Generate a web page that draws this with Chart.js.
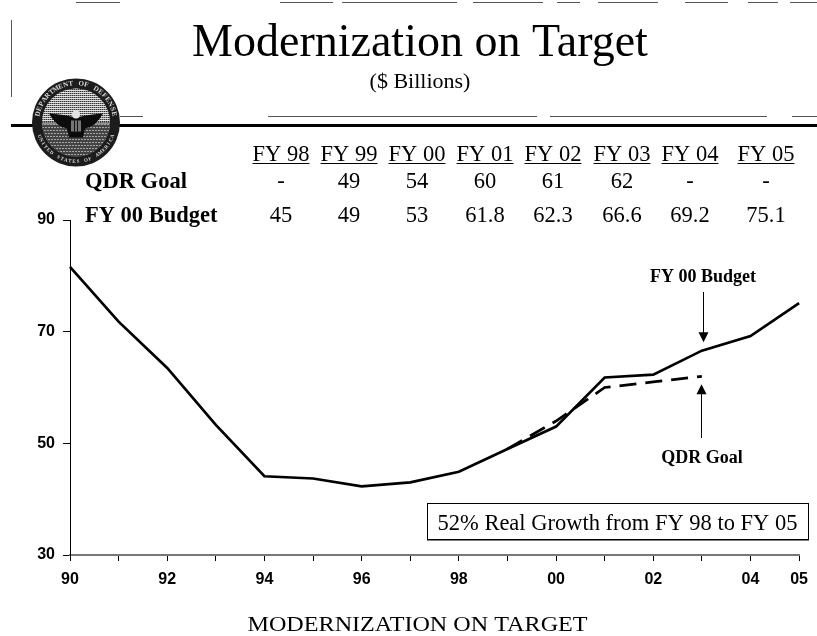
<!DOCTYPE html>
<html>
<head>
<meta charset="utf-8">
<title>Modernization on Target</title>
<script src="https://cdn.jsdelivr.net/npm/chart.js@4"></script>
<style>
  html, body { margin: 0; padding: 0; background: #fff; }
  canvas { display: block; }
</style>
</head>
<body>
<canvas id="modernizationChart" width="817" height="636"></canvas>
<script>
const years = ["90", "91", "92", "93", "94", "95", "96", "97", "98", "99", "00", "01", "02", "03", "04", "05"];
const shownYears = ["90", "92", "94", "96", "98", "00", "02", "04", "05"];
const budgetValues = [81.6, 71.8, 63.5, 53.3, 44.1, 43.7, 42.3, 43, 44.9, 49, 53, 61.8, 62.3, 66.6, 69.2, 75.1];
const goalValues = [null, null, null, null, null, null, null, null, null, 49, 54, 60, 61, 62, null, null];
const yTicks = [30, 50, 70, 90];

const tableYears = ["FY 98", "FY 99", "FY 00", "FY 01", "FY 02", "FY 03", "FY 04", "FY 05"];
const tableGoal = ["-", "49", "54", "60", "61", "62", "-", "-"];
const tableBudget = ["45", "49", "53", "61.8", "62.3", "66.6", "69.2", "75.1"];
const tableCenters = [281, 349, 417, 485, 553, 622, 690, 766];

const SERIF = '"Liberation Serif", serif';

function arrow(ctx, x, y1, y2) {
  const dir = y2 > y1 ? 1 : -1;
  ctx.strokeStyle = "#000";
  ctx.fillStyle = "#000";
  ctx.lineWidth = 1;
  ctx.beginPath();
  ctx.moveTo(x + 0.5, y1);
  ctx.lineTo(x + 0.5, y2 - dir * 8);
  ctx.stroke();
  ctx.beginPath();
  ctx.moveTo(x + 0.5, y2);
  ctx.lineTo(x - 4.5, y2 - dir * 10);
  ctx.lineTo(x + 5.5, y2 - dir * 10);
  ctx.closePath();
  ctx.fill();
}

function drawSeal(ctx) {
  const cx = 76, cy = 122.5, r = 44;
  ctx.save();
  ctx.fillStyle = "#1c1c1c";
  ctx.beginPath();
  ctx.arc(cx, cy, r, 0, Math.PI * 2);
  ctx.fill();

  // inner field, halftone look
  ctx.beginPath();
  ctx.arc(cx, cy, r - 10, 0, Math.PI * 2);
  ctx.clip();
  ctx.fillStyle = "#8e8e8e";
  ctx.fillRect(cx - r, cy - r, r * 2, r * 2);
  ctx.fillStyle = "#333";
  for (let x = 32; x < 120; x += 2) {
    ctx.fillRect(x, cy - r, 1, r);
  }
  ctx.fillStyle = "#e0e0e0";
  for (let y = 78; y < 122; y += 2) {
    ctx.fillRect(cx - r, y, r * 2, 1);
  }
  // lower wreath
  ctx.fillStyle = "#444";
  ctx.fillRect(cx - r, cy + 2, r * 2, r);
  ctx.fillStyle = "#a5a5a5";
  for (let x = 32; x < 120; x += 3) {
    for (let y = 124; y < 168; y += 3) {
      ctx.fillRect(x + (y % 2), y, 2, 1);
    }
  }
  // eagle
  ctx.fillStyle = "#0c0c0c";
  ctx.beginPath();
  ctx.moveTo(cx - 27, cy - 9);
  ctx.quadraticCurveTo(cx - 14, cy - 8, cx - 5, cy - 6);
  ctx.lineTo(cx + 5, cy - 6);
  ctx.quadraticCurveTo(cx + 14, cy - 8, cx + 27, cy - 9);
  ctx.quadraticCurveTo(cx + 20, cy + 4, cx + 9, cy + 6);
  ctx.lineTo(cx + 7, cy + 15);
  ctx.lineTo(cx - 7, cy + 15);
  ctx.lineTo(cx - 9, cy + 6);
  ctx.quadraticCurveTo(cx - 20, cy + 4, cx - 27, cy - 9);
  ctx.fill();
  ctx.fillStyle = "#e4e4e4";
  ctx.beginPath();
  ctx.arc(cx, cy - 8, 4, 0, Math.PI * 2);
  ctx.fill();
  ctx.fillStyle = "#777";
  ctx.fillRect(cx - 5, cy - 2, 10, 11);
  ctx.fillStyle = "#111";
  ctx.fillRect(cx - 2, cy - 2, 1, 11);
  ctx.fillRect(cx + 1, cy - 2, 1, 11);
  ctx.restore();

  // lettering on the ring
  ctx.save();
  ctx.fillStyle = "#ddd";
  ctx.font = 'bold 7px "Liberation Serif", serif';
  ctx.textAlign = "center";
  ctx.textBaseline = "middle";
  const top = "DEPARTMENT OF DEFENSE";
  for (let i = 0; i < top.length; i++) {
    const a = -Math.PI / 2 + (i - (top.length - 1) / 2) * 0.135;
    ctx.save();
    ctx.translate(cx + Math.cos(a) * (r - 5), cy + Math.sin(a) * (r - 5));
    ctx.rotate(a + Math.PI / 2);
    ctx.fillText(top[i], 0, 0);
    ctx.restore();
  }
  ctx.font = 'bold 5px "Liberation Serif", serif';
  const bottom = "UNITED STATES OF AMERICA";
  for (let i = 0; i < bottom.length; i++) {
    const a = Math.PI / 2 - (i - (bottom.length - 1) / 2) * 0.105;
    ctx.save();
    ctx.translate(cx + Math.cos(a) * (r - 5), cy + Math.sin(a) * (r - 5));
    ctx.rotate(a - Math.PI / 2);
    ctx.fillText(bottom[i], 0, 0);
    ctx.restore();
  }
  ctx.restore();
}

const slideText = {
  id: "slideText",
  afterDraw(chart) {
    const ctx = chart.ctx;
    const xScale = chart.scales.x;
    const yScale = chart.scales.y;
    ctx.save();
    ctx.fillStyle = "#000";
    ctx.textBaseline = "alphabetic";

    // scan leftovers round the frame
    ctx.strokeStyle = "#555";
    ctx.lineWidth = 1;
    [[76, 120], [280, 333], [342, 457], [473, 543], [557, 580], [598, 658], [685, 728], [748, 778], [790, 817]].forEach((s) => {
      ctx.beginPath();
      ctx.moveTo(s[0], 2.5);
      ctx.lineTo(s[1], 2.5);
      ctx.stroke();
    });
    [[120, 143], [268, 537], [550, 767], [792, 817]].forEach((s) => {
      ctx.beginPath();
      ctx.moveTo(s[0], 116.5);
      ctx.lineTo(s[1], 116.5);
      ctx.stroke();
    });
    ctx.beginPath();
    ctx.moveTo(11.5, 20);
    ctx.lineTo(11.5, 97);
    ctx.stroke();

    // heavy rule under the title
    ctx.fillStyle = "#000";
    ctx.fillRect(11, 124, 806, 3);
    drawSeal(ctx);

    ctx.fillStyle = "#000";
    ctx.textAlign = "center";
    ctx.font = "46px " + SERIF;
    ctx.fillText("Modernization on Target", 420, 56);
    ctx.font = "22px " + SERIF;
    ctx.fillText("($ Billions)", 420, 88);

    // table above the plot
    ctx.font = "22.5px " + SERIF;
    tableYears.forEach((label, i) => {
      const cx = tableCenters[i];
      ctx.fillText(label, cx, 161);
      const w = ctx.measureText(label).width;
      ctx.fillRect(cx - w / 2, 163, w, 1);
      ctx.fillText(tableGoal[i], cx, 188);
      ctx.fillText(tableBudget[i], cx, 221.5);
    });
    ctx.textAlign = "left";
    ctx.font = "bold 22.5px " + SERIF;
    ctx.fillText("QDR Goal", 85, 188);
    ctx.fillText("FY 00 Budget", 85, 221.5);

    // callouts tied to FY 03 on the axis
    const x03 = Math.round(xScale.getPixelForValue(years.indexOf("03")));
    ctx.textAlign = "center";
    ctx.font = "bold 18px " + SERIF;
    ctx.fillText("FY 00 Budget", x03 + 1, 282);
    arrow(ctx, x03 + 1, 292, yScale.getPixelForValue(68.1));
    ctx.fillText("QDR Goal", x03, 463);
    arrow(ctx, x03 - 1, 438, yScale.getPixelForValue(60.6));

    // growth note
    ctx.strokeStyle = "#000";
    ctx.lineWidth = 1;
    ctx.strokeRect(427.5, 503.5, 381, 36);
    ctx.fillStyle = "#000";
    ctx.fillRect(427, 539, 382, 1.5);
    ctx.font = "22.5px " + SERIF;
    ctx.fillText("52% Real Growth from FY 98 to FY 05", 617.5, 530);

    // caption is stretched sideways in the scan
    ctx.save();
    ctx.translate(417.5, 630.5);
    ctx.scale(1.15, 1);
    ctx.font = "21px " + SERIF;
    ctx.fillText("MODERNIZATION ON TARGET", 0, 0);
    ctx.restore();
    ctx.restore();
  },
};

new Chart(document.getElementById("modernizationChart"), {
  type: "line",
  data: {
    labels: years,
    datasets: [
      {
        label: "FY 00 Budget",
        data: budgetValues,
        borderColor: "#000",
        borderWidth: 2.7,
        pointRadius: 0,
        tension: 0,
      },
      {
        label: "QDR Goal",
        data: goalValues,
        borderColor: "#000",
        borderWidth: 2.7,
        borderDash: [17, 9],
        pointRadius: 0,
        tension: 0,
      },
    ],
  },
  options: {
    responsive: false,
    animation: false,
    layout: {
      padding: { left: 25, right: 17, top: 220, bottom: 41 },
    },
    plugins: {
      legend: { display: false },
      tooltip: { enabled: false },
    },
    scales: {
      x: {
        offset: false,
        afterFit(scale) {
          scale.height = 40;
        },
        border: { color: "#777", width: 2 },
        grid: { drawOnChartArea: false, color: "#000", tickLength: 6 },
        ticks: {
          autoSkip: false,
          maxRotation: 0,
          color: "#000",
          padding: 9,
          font: { family: "Liberation Sans", size: 16, weight: "bold" },
          callback(value) {
            const label = this.getLabelForValue(value);
            return shownYears.includes(label) ? label : "";
          },
        },
      },
      y: {
        min: yTicks[0],
        max: yTicks[yTicks.length - 1],
        afterFit(scale) {
          scale.width = 45;
        },
        afterBuildTicks(scale) {
          scale.ticks = yTicks.map((v) => ({ value: v }));
        },
        border: { color: "#000", width: 1 },
        grid: { drawOnChartArea: false, color: "#000", tickLength: 7 },
        ticks: {
          color: "#000",
          padding: 8,
          font: { family: "Liberation Sans", size: 16, weight: "bold" },
        },
      },
    },
  },
  plugins: [slideText],
});
</script>
</body>
</html>
